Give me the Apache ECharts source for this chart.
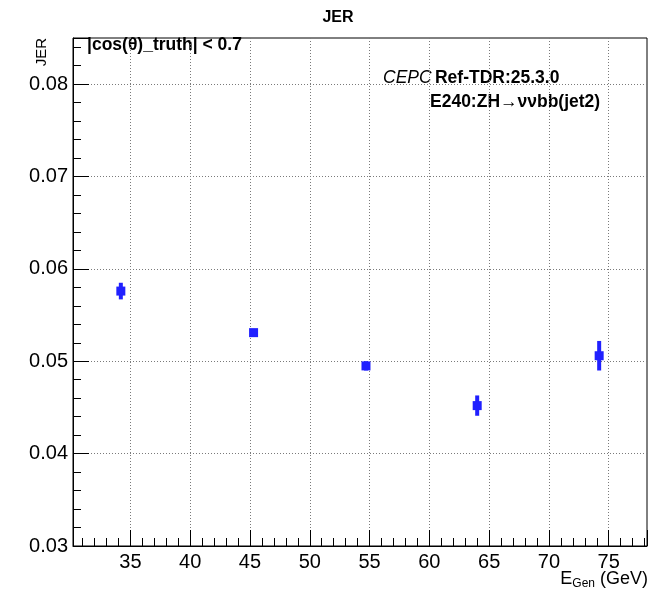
<!DOCTYPE html>
<html lang="en">

<head>
    <meta charset="UTF-8">
    <title>JER</title>
    <style>
        html, body { margin: 0; padding: 0; background: #fff; }
        #main { width: 651px; height: 596px; }
    </style>
</head>

<body>
    <div id="main"></div>
    <script src="https://cdn.jsdelivr.net/npm/echarts@6/dist/echarts.min.js" charset="utf-8"></script>
<script type="text/javascript">
    // points
    var energies = [34.2, 45.3, 54.7, 64.0, 74.2];
    var jer = [0.0576, 0.0531, 0.0495, 0.0452, 0.0506];
    var jerErr = [0.0009, 0.0004, 0.0005, 0.0011, 0.0016];

    var xRange = [30.2, 78.2];
    var yRange = [0.03, 0.085];

    var font = '"Liberation Sans", Arial, Helvetica, sans-serif';
    var blue = '#2020ff';

    var points = [];
    for (var i = 0; i < energies.length; i++) {
        points.push([energies[i], jer[i], jerErr[i]]);
    }

    var myChart = echarts.init(document.getElementById('main'));

    var gridLine = {
        show: true,
        showMinLine: false,
        showMaxLine: false,
        lineStyle: { color: '#7a7a7a', width: 1, type: [1, 2] }
    };

    var option = {
        backgroundColor: '#fff',
        animation: false,
        title: {
            text: 'JER',
            left: 333,
            top: 5,
            textAlign: 'center',
            textStyle: { fontFamily: font, fontWeight: 'bold', fontSize: 16, color: '#000' }
        },
        grid: {
            left: 73, top: 38, right: 4, bottom: 50,
            show: true, borderColor: '#000', borderWidth: 1,
            containLabel: false,
            outerBoundsMode: 'none'
        },
        xAxis: [{
            type: 'value',
            min: xRange[0], max: xRange[1],
            splitNumber: 10, minInterval: 5, maxInterval: 5,
            position: 'bottom',
            axisLine: { onZero: false, lineStyle: { color: '#000', width: 1 } },
            axisTick: { inside: true, length: 16, lineStyle: { color: '#000' } },
            axisLabel: {
                margin: 6, fontFamily: font, fontSize: 20, color: '#000',
                formatter: function (v) { return v % 5 === 0 ? String(v) : ''; }
            },
            splitLine: gridLine
        }, {
            // minor ticks every 1 GeV
            type: 'value',
            min: xRange[0], max: xRange[1],
            splitNumber: 48, minInterval: 1, maxInterval: 1,
            position: 'bottom',
            axisLine: { show: false, onZero: false },
            axisTick: { inside: true, length: 8, lineStyle: { color: '#000' } },
            axisLabel: { show: false },
            splitLine: { show: false }
        }],
        yAxis: [{
            type: 'value',
            min: yRange[0], max: yRange[1],
            interval: 0.01,
            position: 'left',
            axisLine: { show: true, lineStyle: { color: '#000', width: 1 } },
            axisTick: { show: true, inside: true, length: 16, lineStyle: { color: '#000' } },
            axisLabel: {
                margin: 5, fontFamily: font, fontSize: 20, color: '#000',
                formatter: function (v) {
                    return Math.abs(v * 100 - Math.round(v * 100)) < 1e-6 ? v.toFixed(2) : '';
                }
            },
            splitLine: gridLine,
            name: 'JER',
            nameLocation: 'end',
            nameGap: 0,
            nameRotate: 90,
            nameTextStyle: {
                fontFamily: font, fontSize: 15, color: '#000',
                align: 'right', verticalAlign: 'bottom', padding: [0, 0, 24, 0]
            }
        }, {
            // minor ticks every 0.002
            type: 'value',
            min: yRange[0], max: yRange[1],
            interval: 0.002,
            position: 'left',
            axisLine: { show: false },
            axisTick: { show: true, inside: true, length: 8, lineStyle: { color: '#000' } },
            axisLabel: { show: false },
            splitLine: { show: false }
        }],
        graphic: [{
            // x axis title
            type: 'text',
            right: 3, top: 570,
            style: {
                text: '{e|E}{sub|Gen}{e| (GeV)}',
                rich: {
                    e: { fontFamily: font, fontSize: 18, lineHeight: 22, fill: '#000' },
                    sub: { fontFamily: font, fontSize: 12, lineHeight: 5, verticalAlign: 'bottom', fill: '#000' }
                }
            }
        }, {
            type: 'text',
            left: 87, top: 36,
            style: {
                text: '|cos(θ)_truth| < 0.7',
                font: 'bold 17.5px ' + font,
                fill: '#000'
            }
        }, {
            type: 'text',
            left: 383, top: 69,
            style: {
                text: '{i|CEPC} {b|Ref-TDR:25.3.0}',
                rich: {
                    i: { fontFamily: font, fontStyle: 'italic', fontSize: 17.5, fill: '#000' },
                    b: { fontFamily: font, fontWeight: 'bold', fontSize: 17.5, fill: '#000' }
                }
            }
        }, {
            type: 'text',
            left: 430, top: 93,
            style: {
                text: 'E240:ZH→ννbb(jet2)',
                font: 'bold 17.5px ' + font,
                fill: '#000'
            }
        }],
        series: [{
            name: 'error',
            type: 'custom',
            xAxisIndex: 0,
            yAxisIndex: 0,
            data: points,
            renderItem: function (params, api) {
                var x = api.value(0), y = api.value(1), e = api.value(2);
                var hi = api.coord([x, y + e]);
                var lo = api.coord([x, y - e]);
                return {
                    type: 'line',
                    shape: { x1: hi[0], y1: hi[1], x2: lo[0], y2: lo[1] },
                    style: { stroke: blue, lineWidth: 4 }
                };
            },
            z: 3
        }, {
            name: 'JER',
            type: 'scatter',
            xAxisIndex: 0,
            yAxisIndex: 0,
            data: points,
            symbol: 'rect',
            symbolSize: 9,
            itemStyle: { color: blue, opacity: 1 },
            z: 4
        }]
    };
    myChart.setOption(option);
</script>

</body>

</html>
